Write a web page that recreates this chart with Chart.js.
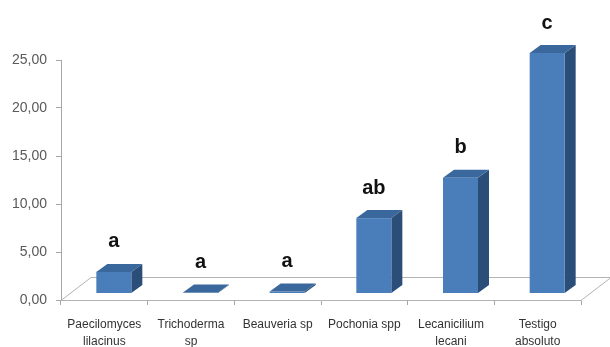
<!DOCTYPE html>
<html>
<head>
<meta charset="utf-8">
<script src="https://cdn.jsdelivr.net/npm/chart.js@4/dist/chart.umd.min.js"></script>
<style>
  html, body { margin: 0; padding: 0; background: #ffffff; }
  #wrap { width: 610px; height: 347px; }
</style>
</head>
<body>
<div id="wrap"><canvas id="c" width="610" height="347"></canvas></div>
<script>
// ---- data ----
const categories = [
  ['Paecilomyces', 'lilacinus'],
  ['Trichoderma', 'sp'],
  'Beauveria sp',
  'Pochonia spp',
  ['Lecanicilium', 'lecani'],
  ['Testigo', 'absoluto']
];
const values = [2.2, 0.05, 0.15, 7.8, 12.0, 25.0];
const letters = ['a', 'a', 'a', 'ab', 'b', 'c'];
const yTicks = [0, 5, 10, 15, 20, 25];

// ---- 3D look ----
const FLOOR_DX = 30, FLOOR_DY = 23;
const BAR_OX = 9.5, BAR_OY = 7;
const BAR_DX = 11, BAR_DY = 8;
const FRONT = '#4A7EBB', TOP = '#3A679C', SIDE = '#2A4E78';

const threeD = {
  id: 'threeD',
  beforeDatasetsDraw(chart) {
    const ctx = chart.ctx, a = chart.chartArea;
    const y0 = chart.scales.y.getPixelForValue(0);
    ctx.save();
    ctx.strokeStyle = '#B3B3B3';
    ctx.lineWidth = 1;
    ctx.beginPath();
    ctx.moveTo(a.left, y0 + 0.5);
    ctx.lineTo(a.left + FLOOR_DX, y0 - FLOOR_DY + 0.5);
    ctx.lineTo(a.right + FLOOR_DX, y0 - FLOOR_DY + 0.5);
    ctx.lineTo(a.right, y0 + 0.5);
    ctx.stroke();
    ctx.restore();
  },
  afterDatasetsDraw(chart) {
    const ctx = chart.ctx;
    const ys = chart.scales.y;
    const meta = chart.getDatasetMeta(0);
    ctx.save();
    meta.data.forEach((el, i) => {
      const w = el.width;
      const x0 = el.x - w / 2 + BAR_OX, x1 = x0 + w;
      const yb = ys.getPixelForValue(0) - BAR_OY;
      const yt = ys.getPixelForValue(values[i]) - BAR_OY;
      // side
      ctx.fillStyle = SIDE;
      ctx.beginPath();
      ctx.moveTo(x1, yt); ctx.lineTo(x1 + BAR_DX, yt - BAR_DY);
      ctx.lineTo(x1 + BAR_DX, yb - BAR_DY); ctx.lineTo(x1, yb);
      ctx.closePath(); ctx.fill();
      // front
      ctx.fillStyle = FRONT;
      ctx.fillRect(x0, yt, w, yb - yt);
      // top
      ctx.fillStyle = TOP;
      ctx.beginPath();
      ctx.moveTo(x0, yt); ctx.lineTo(x0 + BAR_DX, yt - BAR_DY);
      ctx.lineTo(x1 + BAR_DX, yt - BAR_DY); ctx.lineTo(x1, yt);
      ctx.closePath(); ctx.fill();
      // letter
      ctx.fillStyle = '#111111';
      ctx.font = 'bold 20px "Liberation Sans", Arial, sans-serif';
      ctx.textAlign = 'center';
      ctx.textBaseline = 'middle';
      ctx.fillText(letters[i], x0 + w / 2, yt - 30);
    });
    ctx.restore();
  }
};

new Chart(document.getElementById('c'), {
  type: 'bar',
  data: {
    labels: categories,
    datasets: [{
      data: values,
      backgroundColor: 'rgba(0,0,0,0)',
      borderWidth: 0,
      categoryPercentage: 1,
      barPercentage: 0.404
    }]
  },
  options: {
    responsive: false,
    animation: false,
    events: [],
    layout: { padding: { top: 60, right: 29, left: 0, bottom: 0 } },
    plugins: { legend: { display: false }, tooltip: { enabled: false } },
    scales: {
      y: {
        min: 0, max: 25,
        afterBuildTicks: (s) => { s.ticks = yTicks.map(v => ({ value: v })); },
        afterFit: (s) => { s.width = 61; },
        border: { display: true, color: '#A6A6A6', width: 1 },
        grid: { drawOnChartArea: false, color: '#A6A6A6', tickLength: 5 },
        ticks: {
          padding: 9,
          color: '#595959',
          font: { family: '"Liberation Sans", Arial, sans-serif', size: 14 },
          callback: (v) => Number(v).toFixed(2).replace('.', ',')
        }
      },
      x: {
        afterFit: (s) => { s.height = 47; },
        border: { display: true, color: '#B3B3B3', width: 1 },
        grid: { drawOnChartArea: false, color: '#A6A6A6', tickLength: 5, offset: true },
        ticks: {
          padding: 11,
          color: '#333333',
          maxRotation: 0,
          autoSkip: false,
          font: { family: '"Liberation Sans", Arial, sans-serif', size: 12, lineHeight: 1.42 }
        }
      }
    }
  },
  plugins: [threeD]
});
</script>
</body>
</html>
